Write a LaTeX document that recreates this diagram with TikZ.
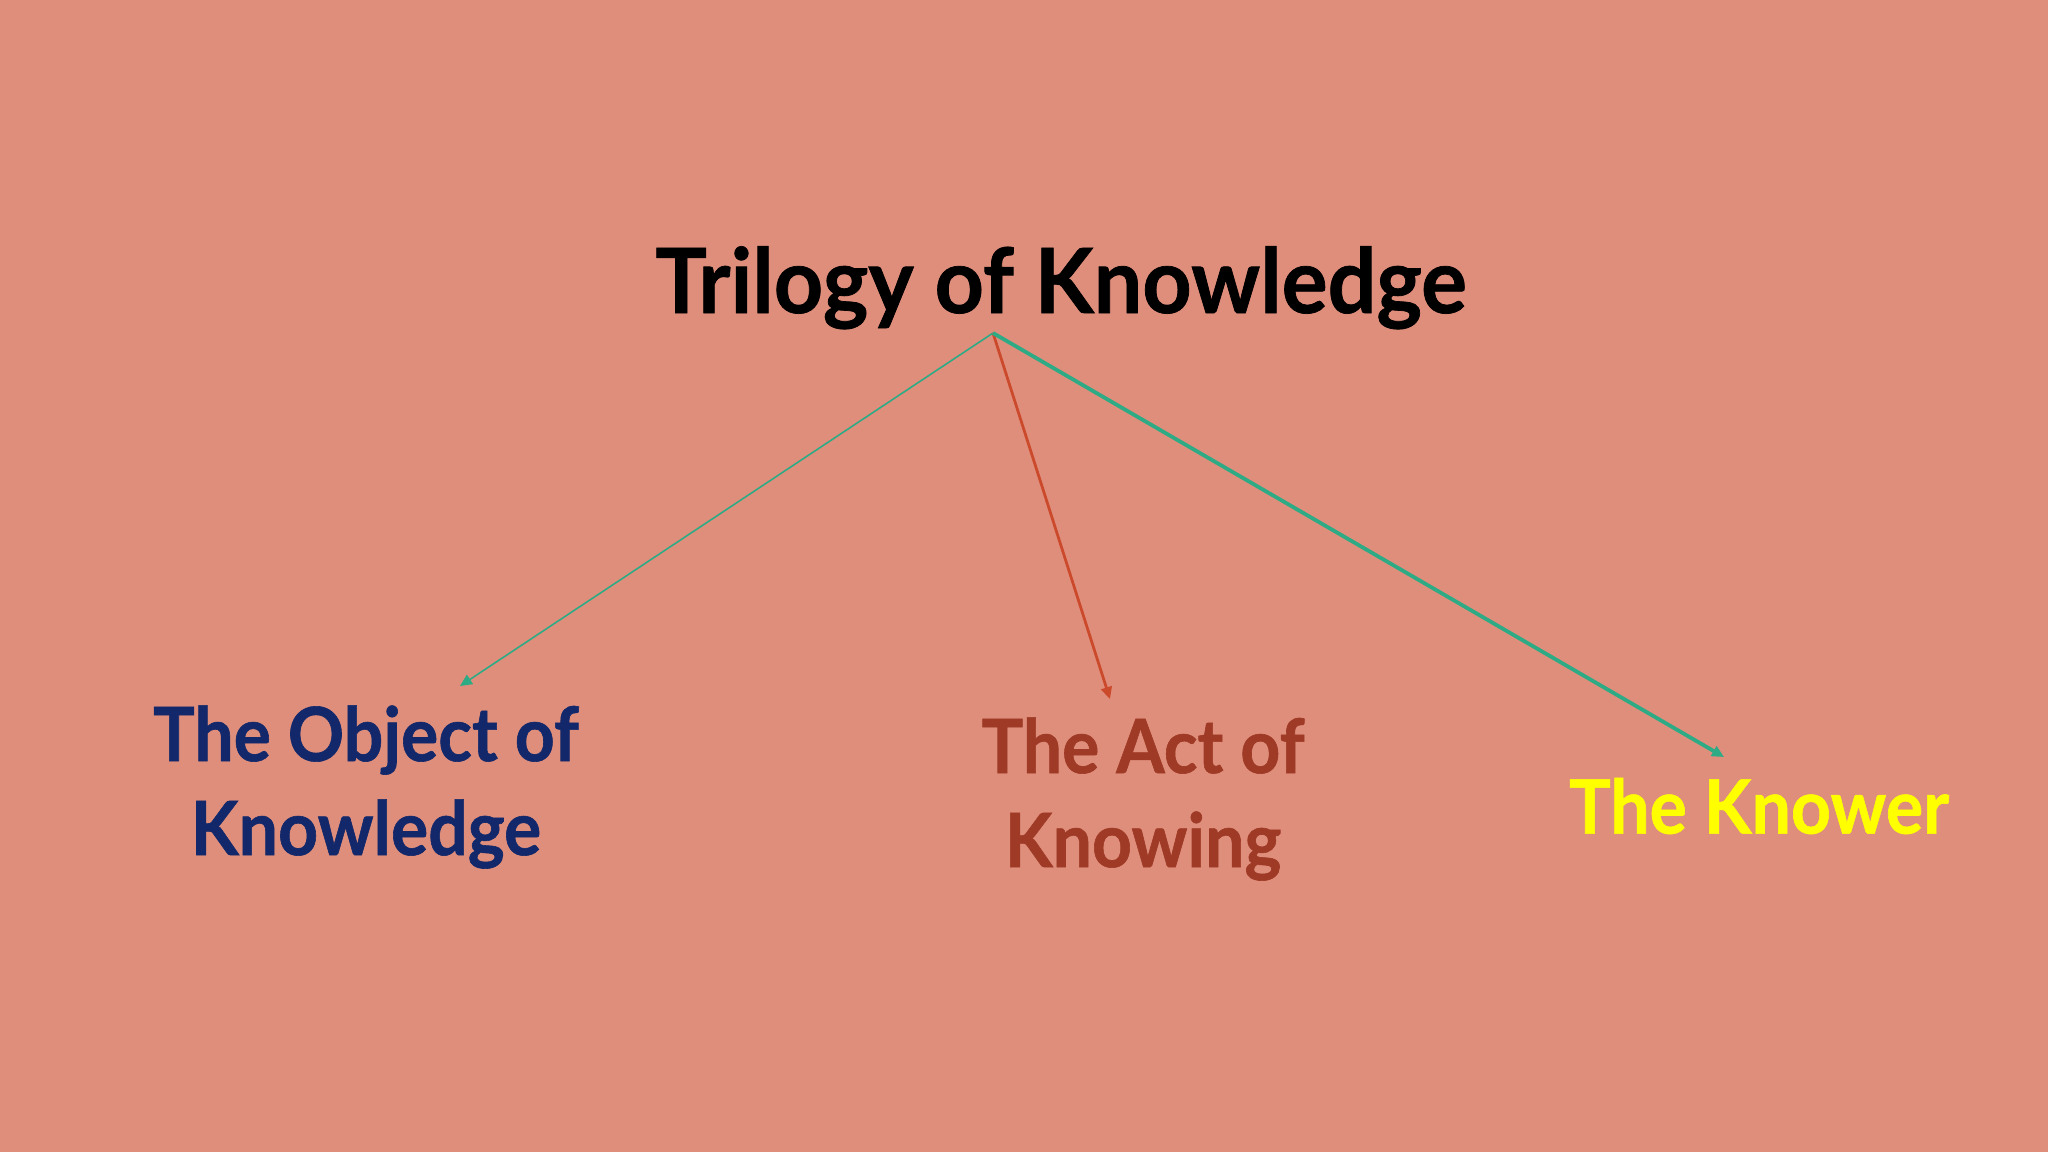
\documentclass[tikz,border=0pt]{standalone}
\usepackage{fontspec}
\setmainfont{Lato}
\newfontfamily\ttlfont{Lato}[FakeStretch=0.956,BoldFeatures={FakeBold=0.8}]
\newfontfamily\lblfont{Lato}[FakeStretch=0.93,BoldFeatures={FakeBold=0.8}]
\usetikzlibrary{arrows.meta}
\definecolor{bg}{HTML}{E08E7C}
\definecolor{grn}{HTML}{2EAA84}
\definecolor{rd}{HTML}{CC4A2C}
\definecolor{navy}{HTML}{12286A}
\definecolor{brn}{HTML}{9E3A25}
\definecolor{ylw}{HTML}{FFFF00}
\tikzset{
  lbl/.style={align=center, font=\lblfont\fontsize{37.5}{47}\selectfont\bfseries, inner sep=0pt},
  ttl/.style={font=\ttlfont\fontsize{45}{54}\selectfont\bfseries, inner sep=0pt, text=black},
  arr/.style={-{Triangle[length=6pt,width=5.5pt]}},
}
\begin{document}
\begin{tikzpicture}[x=0.5pt,y=-0.5pt]
\fill[bg] (0,0) rectangle (2048,1152);
\useasboundingbox (0,0) rectangle (2048,1152);
\node[ttl, anchor=base] (title) at (1061,313) {Trilogy of Knowledge};
\coordinate (o) at (993,333);
\node[lbl, text=navy] (obj) at (366,787) {The Object of\\Knowledge};
\node[lbl, text=brn] (act) at (1143,799) {The Act of\\Knowing};
\node[lbl, text=ylw] (kn) at (1759,806) {The Knower};
\coordinate (e1) at (460,686);
\coordinate (e2) at (1110,699);
\coordinate (e3) at (1724,757);
\draw[arr, grn, line width=0.8pt] (o) -- (e1);
\draw[arr, rd, line width=1.4pt] (o) -- (e2);
\draw[arr, grn, line width=1.9pt] (o) -- (e3);
\end{tikzpicture}
\end{document}
